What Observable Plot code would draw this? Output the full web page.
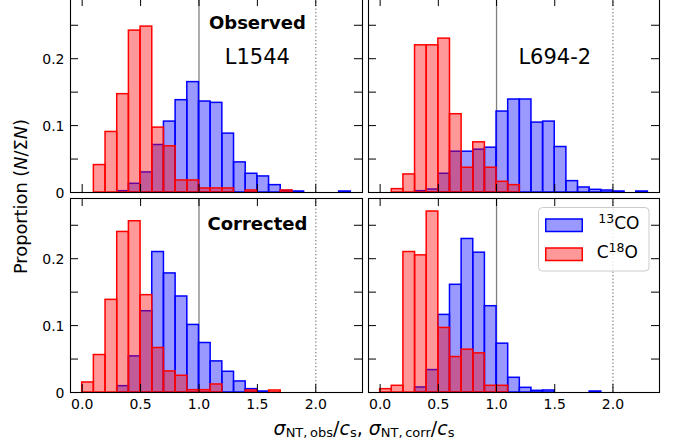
<!DOCTYPE html>
<html>
<head>
<meta charset="utf-8">
<script src="https://cdn.jsdelivr.net/npm/d3@7"></script>
<script src="https://cdn.jsdelivr.net/npm/@observablehq/plot@0.6"></script>
<style>
  body { margin: 0; background: #fff; }
  #fig { position: relative; width: 678px; height: 445px; overflow: hidden; background: #fff; font-family: "DejaVu Sans", sans-serif; }
  .panel { position: absolute; }
  .panel svg { overflow: visible; display: block; }
  #overlay { position: absolute; left: 0; top: 0; pointer-events: none; overflow: visible; }
</style>
</head>
<body>
<div id="fig"></div>
<script>
// ---- data -------------------------------------------------------------
// histogram bin edges (sigma_NT / c_s), bin width 0.1
const binEdges = [0.0, 0.1, 0.2, 0.3, 0.4, 0.5, 0.6, 0.7, 0.8, 0.9, 1.0, 1.1, 1.2,
                  1.3, 1.4, 1.5, 1.6, 1.7, 1.8, 1.9, 2.0, 2.1, 2.2, 2.3, 2.4];

// Observed, L1544
const obsL1544_13CO = [0, 0, 0, 0.002, 0.013, 0.030, 0.071, 0.106, 0.138, 0.165, 0.136, 0.134,
                       0.088, 0.045, 0.028, 0.024, 0.011, 0.0025, 0.0015, 0, 0, 0, 0.0015, 0];
const obsL1544_C18O = [0, 0.041, 0.0905, 0.147, 0.242, 0.248, 0.097, 0.069, 0.018, 0.018, 0.006, 0.006,
                       0.006, 0, 0.003, 0, 0, 0.003, 0, 0, 0, 0, 0, 0];
// Observed, L694-2
const obsL694_13CO = [0, 0, 0, 0.002, 0.0045, 0.028, 0.061, 0.061, 0.064, 0.067, 0.121, 0.139,
                      0.139, 0.1045, 0.106, 0.068, 0.017, 0.0075, 0.004, 0.003, 0.0015, 0, 0.0015, 0];
const obsL694_C18O = [0, 0.005, 0.027, 0.22, 0.22, 0.23, 0.117, 0.037, 0.075, 0.037, 0.016, 0.011,
                      0, 0, 0, 0, 0, 0, 0, 0, 0, 0, 0, 0];
// Corrected, L1544
const corrL1544_13CO = [0, 0, 0, 0.0095, 0.054, 0.1215, 0.21, 0.178, 0.1435, 0.101, 0.074, 0.0465,
                        0.031, 0.0165, 0.005, 0.0015, 0, 0, 0, 0, 0, 0, 0, 0];
const corrL1544_C18O = [0.015, 0.056, 0.1385, 0.24, 0.256, 0.1455, 0.0665, 0.0315, 0.025, 0.0035, 0.0035, 0.012,
                        0, 0, 0.003, 0, 0.003, 0, 0, 0, 0, 0, 0, 0];
// Corrected, L694-2
const corrL694_13CO = [0, 0, 0, 0.0075, 0.0335, 0.116, 0.161, 0.2295, 0.209, 0.129, 0.073, 0.022,
                       0.007, 0.0025, 0.003, 0, 0, 0, 0.0015, 0, 0, 0, 0, 0];
const corrL694_C18O = [0.005, 0.01, 0.21, 0.205, 0.2705, 0.0965, 0.053, 0.064, 0.0585, 0.01, 0.01, 0,
                       0, 0, 0, 0, 0, 0, 0, 0, 0, 0, 0, 0];

// axis ticks and labels
const xTicks = [0.0, 0.5, 1.0, 1.5, 2.0];
const xTickLabels = ["0.0", "0.5", "1.0", "1.5", "2.0"];
const yTicks = [0, 0.05, 0.1, 0.15, 0.2, 0.25];
const yLabelTicks = [0, 0.1, 0.2];
const yTickLabels = ["0", "0.1", "0.2"];
const refLines = [1.0, 2.0];      // solid at 1.0, dotted at 2.0
const seriesNames = ["13CO", "C18O"];
const annotX = 1.5;               // x position of the panel annotations

// ---- layout / style ----------------------------------------------------
const xDomain = [-0.1, 2.4];
const yDomain = [0, 0.29];
const BLUE = "#0000ff", RED = "#ff0000";
const TICK = 8;
const FONT = "DejaVu Sans";

function toBins(vals) {
  return vals.map((v, i) => ({x1: binEdges[i], x2: binEdges[i + 1], v}));
}

function panel({c13, c18, left, top, w, h, showX, showY, texts}) {
  const marks = [
    Plot.ruleX([refLines[0]], {x: d => d, stroke: "#808080", strokeWidth: 1.3}),
    Plot.ruleX([refLines[1]], {x: d => d, stroke: "#808080", strokeWidth: 1.3, strokeDasharray: "1.3,2.2"}),
    Plot.rectY(toBins(c13), {x1: "x1", x2: "x2", y: "v", fill: BLUE, fillOpacity: 0.4, stroke: BLUE, strokeWidth: 1.5}),
    Plot.rectY(toBins(c18), {x1: "x1", x2: "x2", y: "v", fill: RED, fillOpacity: 0.4, stroke: RED, strokeWidth: 1.5}),
    // inward ticks on all four sides
    Plot.tickY(yTicks, {y: d => d, insetRight: w - TICK, stroke: "black", strokeWidth: 1}),
    Plot.tickY(yTicks, {y: d => d, insetLeft: w - TICK, stroke: "black", strokeWidth: 1}),
    Plot.tickX(xTicks, {x: d => d, insetTop: h - TICK, stroke: "black", strokeWidth: 1}),
    Plot.tickX(xTicks, {x: d => d, insetBottom: h - TICK, stroke: "black", strokeWidth: 1}),
    Plot.frame({stroke: "black", strokeWidth: 1.1})
  ];
  if (showY) {
    marks.push(Plot.text(yLabelTicks, {y: d => d, text: (d, i) => yTickLabels[i], frameAnchor: "left",
      textAnchor: "end", dx: -6, dy: 1, fontSize: 14, fontFamily: FONT, fill: "black"}));
  }
  if (showX) {
    marks.push(Plot.text(xTicks, {x: d => d, text: (d, i) => xTickLabels[i], frameAnchor: "bottom",
      lineAnchor: "top", dy: 7, fontSize: 14, fontFamily: FONT, fill: "black"}));
  }
  for (const t of texts) {
    marks.push(Plot.text([t.text], {x: () => annotX, text: d => d, frameAnchor: "top", lineAnchor: "middle",
      dy: t.dy, fontSize: t.size, fontWeight: t.weight || "normal", fontFamily: FONT, fill: "black"}));
  }
  const svg = Plot.plot({
    width: w, height: h,
    marginTop: 0, marginRight: 0, marginBottom: 0, marginLeft: 0,
    x: {domain: xDomain, axis: null},
    y: {domain: yDomain, axis: null},
    style: {background: "none", overflow: "visible", fontFamily: FONT},
    marks
  });
  const div = document.createElement("div");
  div.className = "panel";
  div.style.left = left + "px";
  div.style.top = top + "px";
  div.style.width = w + "px";
  div.style.height = h + "px";
  div.appendChild(svg);
  document.getElementById("fig").appendChild(div);
}

panel({c13: obsL1544_13CO, c18: obsL1544_C18O, left: 70, top: -2, w: 292, h: 194, showX: false, showY: true,
  texts: [{text: "Observed", dy: 25, size: 18, weight: "bold"}, {text: "L1544", dy: 59, size: 21}]});
panel({c13: obsL694_13CO, c18: obsL694_C18O, left: 368, top: -2, w: 291, h: 194, showX: false, showY: false,
  texts: [{text: "L694-2", dy: 59, size: 21}]});
panel({c13: corrL1544_13CO, c18: corrL1544_C18O, left: 70, top: 198, w: 292, h: 194, showX: true, showY: true,
  texts: [{text: "Corrected", dy: 26, size: 18, weight: "bold"}]});
panel({c13: corrL694_13CO, c18: corrL694_C18O, left: 368, top: 198, w: 291, h: 194, showX: true, showY: false,
  texts: []});

// ---- axis labels and legend (overlay) ---------------------------------
const NS = "http://www.w3.org/2000/svg";
const ov = document.createElementNS(NS, "svg");
ov.setAttribute("id", "overlay");
ov.setAttribute("width", 678);
ov.setAttribute("height", 445);
ov.innerHTML = `
  <g font-family="DejaVu Sans" fill="black" style="white-space:pre">
    <text x="364" y="435" text-anchor="middle" font-size="19"><tspan font-style="italic">σ</tspan><tspan font-size="13" dy="2">NT,\u2009obs</tspan><tspan dy="-2">/</tspan><tspan font-style="italic">c</tspan><tspan font-size="13" dy="2">s</tspan><tspan dy="-2">, </tspan><tspan font-style="italic">σ</tspan><tspan font-size="13" dy="2">NT,\u2009corr</tspan><tspan dy="-2">/</tspan><tspan font-style="italic">c</tspan><tspan font-size="13" dy="2">s</tspan></text>
    <text transform="translate(27,196.5) rotate(-90)" text-anchor="middle" font-size="17.8">Proportion (<tspan font-style="italic">N</tspan>/Σ<tspan font-style="italic">N</tspan>)</text>
  </g>
  <g font-family="DejaVu Sans" fill="black">
    <rect x="538.5" y="207.5" width="110.5" height="63.5" rx="4" fill="white" fill-opacity="0.8" stroke="#cccccc" stroke-width="1"></rect>
    <rect x="545.75" y="219" width="36.5" height="12.5" fill="${BLUE}" fill-opacity="0.4" stroke="${BLUE}" stroke-width="1.5"></rect>
    <rect x="545.75" y="248" width="36.5" height="12.5" fill="${RED}" fill-opacity="0.4" stroke="${RED}" stroke-width="1.5"></rect>
    <text x="598.3" y="229.3" font-size="17"><tspan font-size="12.5" dy="-6.6">13</tspan><tspan dy="6.6">CO</tspan></text>
    <text x="596.7" y="258.3" font-size="17">C<tspan font-size="12.5" dy="-6.6">18</tspan><tspan dy="6.6">O</tspan></text>
  </g>`;
document.getElementById("fig").appendChild(ov);
</script>
</body>
</html>
